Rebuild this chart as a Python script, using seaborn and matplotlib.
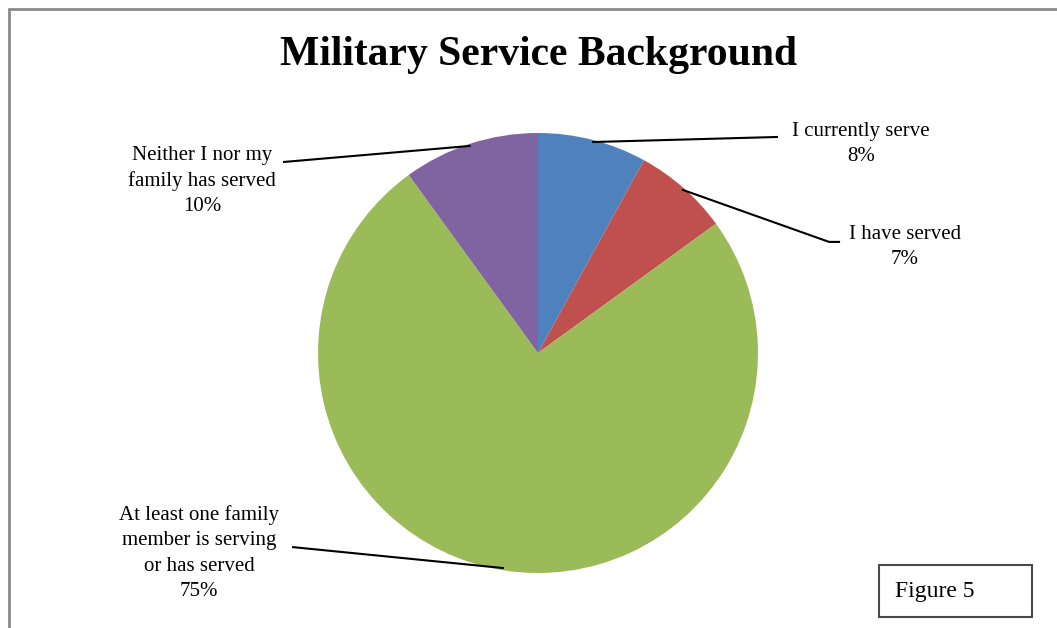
import numpy as np
import matplotlib
matplotlib.use("Agg")
import matplotlib.pyplot as plt
from matplotlib.patches import Rectangle
from matplotlib.lines import Line2D
import seaborn as sns

# Survey responses
categories = ["I currently serve", "I have served",
              "At least one family\nmember is serving\nor has served",
              "Neither I nor my\nfamily has served"]
shares = [8, 7, 75, 10]
colors = ["#4F81BD", "#C0504D", "#9BBB59", "#8064A2"]

sns.set_theme(style="white")
plt.rcParams["font.family"] = ["Liberation Serif", "DejaVu Serif"]
palette = sns.color_palette(colors)

W, H = 1057, 628
fig = plt.figure(figsize=(W / 100, H / 100), dpi=100)
fig.patch.set_facecolor("white")

# Axes laid out so that one data unit equals the pie radius (220 px)
R = 220.0
cx, cy = 538.0, 353.0
ax = fig.add_axes([0, 0, 1, 1])

wedges, _ = ax.pie(shares, colors=palette, startangle=90, counterclock=False,
                   radius=1.0, center=(0, 0),
                   wedgeprops=dict(linewidth=0, antialiased=True))
ax.set_aspect("auto")
ax.set_xlim(-cx / R, (W - cx) / R)
ax.set_ylim(-(H - cy) / R, cy / R)
ax.axis("off")

# Label placement (block centre) and leader-line end, in pie-radius units
label_pos = [(1.468, 0.95), (1.668, 0.482), (-1.541, -0.909), (-1.527, 0.782)]
leader_end = [(1.091, 0.982), (1.373, 0.505), (-1.118, -0.882), (-1.159, 0.868)]
# short horizontal tail where a leader meets its label
tail = [0.0, 0.05, 0.0, 0.0]

for w, cat, val, lp, le, tl in zip(wedges, categories, shares, label_pos, leader_end, tail):
    mid = np.deg2rad((w.theta1 + w.theta2) / 2)
    start = (np.cos(mid) * 0.99, np.sin(mid) * 0.99)
    bend = (le[0] - tl, le[1])
    ax.add_line(Line2D([start[0], bend[0], le[0]], [start[1], bend[1], le[1]],
                       color="black", lw=1.5, solid_capstyle="butt"))
    ax.text(lp[0], lp[1], f"{cat}\n{val}%", ha="center", va="center",
            fontsize=15, color="black", linespacing=1.45)

# Title
fig.text(539 / W, 1 - 65 / H, "Military Service Background", ha="center",
         va="baseline", fontsize=30, fontweight="bold", color="black")

# Outer frame (left and top edges)
fig.add_artist(Line2D([8.5 / W, 8.5 / W], [0, 1 - 8.5 / H], transform=fig.transFigure,
                      color="#8a8a8a", lw=2))
fig.add_artist(Line2D([8.5 / W, 1], [1 - 8.5 / H, 1 - 8.5 / H], transform=fig.transFigure,
                      color="#8a8a8a", lw=2))

# Figure number box
fig.add_artist(Rectangle((879 / W, 1 - 617 / H), 153 / W, 52 / H,
                         transform=fig.transFigure, fill=False,
                         edgecolor="#4a4a4a", lw=1.5))
fig.text(895 / W, 1 - 591 / H, "Figure 5", ha="left", va="center",
         fontsize=17, color="black")

fig.savefig("out.png", dpi=100, facecolor="white")
